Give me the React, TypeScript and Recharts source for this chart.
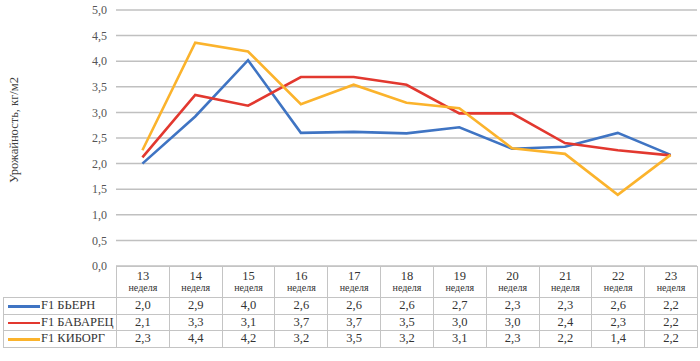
import { LineChart, Line, XAxis, YAxis, CartesianGrid } from 'recharts';

const weeks = ['13', '14', '15', '16', '17', '18', '19', '20', '21', '22', '23'];
const bjern = [2.0, 2.92, 4.02, 2.6, 2.62, 2.59, 2.71, 2.29, 2.33, 2.6, 2.17];
const bavarets = [2.12, 3.34, 3.13, 3.69, 3.69, 3.54, 2.98, 2.98, 2.4, 2.26, 2.16];
const kiborg = [2.26, 4.36, 4.19, 3.16, 3.54, 3.19, 3.08, 2.3, 2.19, 1.39, 2.17];
const yTicks = [0, 0.5, 1, 1.5, 2, 2.5, 3, 3.5, 4, 4.5, 5];

const series = [
    { key: 'bjern', name: 'F1 БЬЕРН', color: '#3f74c3', values: bjern },
    { key: 'bavarets', name: 'F1 БАВАРЕЦ', color: '#e2382f', values: bavarets },
    { key: 'kiborg', name: 'F1 КИБОРГ', color: '#fbb32c', values: kiborg },
];

const data = weeks.map((w, i) => ({
    week: w,
    bjern: bjern[i],
    bavarets: bavarets[i],
    kiborg: kiborg[i],
}));

const fmt = (v: number) => v.toFixed(1).replace('.', ',');

const FONT = '"Liberation Serif", "Times New Roman", "DejaVu Serif", serif';
const BORDER = '1px solid #c4c4c4';
const COL_W = 581 / 11;

const App = () => {
    return (
        <div
            style={{
                position: 'absolute',
                left: 0,
                top: 0,
                width: 700,
                height: 361,
                background: '#fff',
                fontFamily: FONT,
            }}
        >
            <div
                style={{
                    position: 'absolute',
                    left: 14,
                    top: 130,
                    transform: 'translate(-50%, -50%) rotate(-90deg)',
                    whiteSpace: 'nowrap',
                    fontSize: 12.5,
                    color: '#404040',
                    fontFamily: FONT,
                }}
            >
                Урожайность, кг/м2
            </div>
            <LineChart
                width={700}
                height={282}
                data={data}
                margin={{ top: 10, right: 3, left: 0, bottom: 16 }}
                style={{ fontFamily: FONT }}
            >
                <CartesianGrid vertical={false} stroke="#c0c0c0" strokeWidth={1.5} />
                <XAxis
                    dataKey="week"
                    hide
                    padding={{ left: COL_W / 2, right: COL_W / 2 }}
                />
                <YAxis
                    width={116}
                    domain={[0, 5]}
                    ticks={yTicks}
                    interval={0}
                    axisLine={false}
                    tickLine={false}
                    tickSize={0}
                    tickMargin={9}
                    tickFormatter={fmt}
                    tick={{ fontSize: 12, fill: '#555', fontFamily: FONT }}
                />
                {series.map((s) => (
                    <Line
                        key={s.key}
                        dataKey={s.key}
                        stroke={s.color}
                        strokeWidth={2.6}
                        dot={false}
                        isAnimationActive={false}
                    />
                ))}
            </LineChart>
            <table
                style={{
                    position: 'absolute',
                    left: 3,
                    top: 266,
                    width: 694,
                    borderCollapse: 'collapse',
                    tableLayout: 'fixed',
                    fontFamily: FONT,
                    color: '#333',
                }}
            >
                <colgroup>
                    <col style={{ width: 113 }} />
                    {weeks.map((w) => (
                        <col key={w} style={{ width: COL_W }} />
                    ))}
                </colgroup>
                <tbody>
                    <tr style={{ height: 31 }}>
                        <td style={{ padding: 0 }} />
                        {weeks.map((w) => (
                            <td
                                key={w}
                                style={{
                                    border: BORDER,
                                    textAlign: 'center',
                                    padding: 0,
                                    lineHeight: 1.05,
                                    background: '#fff',
                                }}
                            >
                                <div style={{ fontSize: 12.5 }}>{w}</div>
                                <div style={{ fontSize: 10 }}>неделя</div>
                            </td>
                        ))}
                    </tr>
                    {series.map((s) => (
                        <tr key={s.key} style={{ height: 16.5 }}>
                            <td
                                style={{
                                    border: BORDER,
                                    padding: '0 0 0 4px',
                                    fontSize: 12.5,
                                    whiteSpace: 'nowrap',
                                    lineHeight: '15px',
                                }}
                            >
                                <span
                                    style={{
                                        display: 'inline-block',
                                        width: 32,
                                        height: 2.6,
                                        background: s.color,
                                        verticalAlign: 'middle',
                                        marginRight: 1,
                                    }}
                                />
                                {s.name}
                            </td>
                            {s.values.map((v, i) => (
                                <td
                                    key={i}
                                    style={{
                                        border: BORDER,
                                        textAlign: 'center',
                                        padding: 0,
                                        fontSize: 12.5,
                                        lineHeight: '15px',
                                    }}
                                >
                                    {fmt(v)}
                                </td>
                            ))}
                        </tr>
                    ))}
                </tbody>
            </table>
        </div>
    );
};

export default App;
